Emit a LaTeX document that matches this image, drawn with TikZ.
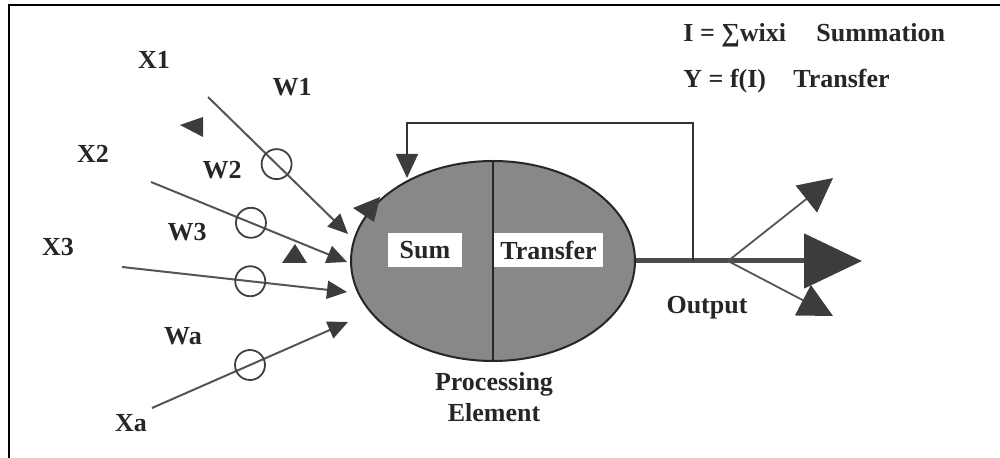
\documentclass[tikz,border=0pt]{standalone}
\usepackage{fontspec}
\setmainfont{Liberation Serif}
\usetikzlibrary{arrows.meta,shapes.geometric}

\definecolor{peGray}{HTML}{888888}
\definecolor{tipGray}{HTML}{3C3C3C}
\definecolor{lineGray}{HTML}{555555}

\begin{document}
\begin{tikzpicture}[x=0.5pt, y=-0.5pt,
    lbl/.style={font=\fontsize{13}{15.5}\selectfont\bfseries, text=black!85,
        inner sep=0pt},
    wcirc/.style={circle, draw=black!75, line width=0.9pt,
        minimum size=15pt, inner sep=0pt},
    inarrow/.style={draw=lineGray, line width=1pt,
        -{Triangle[length=10pt, width=9pt, color=tipGray]}},
    boxlbl/.style={fill=white, font=\fontsize{13}{15.5}\selectfont\bfseries,
        text=black!85, minimum height=17pt, inner xsep=3pt},
    branch/.style={draw=lineGray, line width=0.9pt,
        -{Triangle[length=17pt, width=17pt, color=tipGray]}},
    stray/.style={fill=tipGray},
]

\useasboundingbox (0,0) rectangle (1000,458);

% === Frame ===
\draw[line width=1.2pt] (9,458) -- (9,5) -- (1000,5);

% === Processing element ===
\node[ellipse, draw=black!85, line width=1pt, fill=peGray,
    minimum width=142pt, minimum height=100pt, inner sep=0pt] (pe) at (493,261) {};
\draw[black!85, line width=0.9pt] (pe.north) -- (pe.south);
\node[boxlbl, minimum width=37pt] (sum) at (425,250) {Sum};
\node[boxlbl, anchor=west] (transfer) at (494,250) {Transfer};
\node[lbl, align=center] (pelabel) at (494,397) {Processing\\Element};

% === Inputs ===
\coordinate (x1s) at (208,97);   \coordinate (x1e) at (348,234);
\coordinate (x2s) at (151,182);  \coordinate (x2e) at (347,262);
\coordinate (x3s) at (122,267);  \coordinate (x3e) at (347,292);
\coordinate (xas) at (152,408);  \coordinate (xae) at (348,322);

\draw[inarrow] (x1s) -- node[wcirc, pos=0.49] (w1c) {} (x1e);
\draw[inarrow] (x2s) -- node[wcirc, pos=0.51] (w2c) {} (x2e);
\draw[inarrow] (x3s) -- node[wcirc, pos=0.57] (w3c) {} (x3e);
\draw[inarrow] (xas) -- node[wcirc, pos=0.50] (wac) {} (xae);

\node[lbl] (x1) at (154,60) {X1};
\node[lbl] (x2) at (93,154) {X2};
\node[lbl] (x3) at (58,247) {X3};
\node[lbl] (xa) at (131,423) {Xa};
\node[lbl] (w1) at (292,87) {W1};
\node[lbl] (w2) at (222,170) {W2};
\node[lbl] (w3) at (187,232) {W3};
\node[lbl] (wa) at (183,336) {Wa};

% loose arrowheads
\fill[stray] (180,125) -- (203,117) -- (203,137) -- cycle;
\fill[stray] (282,263) -- (295,244) -- (307,263) -- cycle;
\fill[stray] (353,208) -- (380,197) -- (374,222) -- cycle;

% === Output ===
\coordinate (outtip) at (862,261);
\draw[draw=black!70, line width=2.5pt,
    -{Triangle[length=29pt, width=27pt, color=tipGray]}] (pe.east) -- (outtip);
\coordinate (split) at (728,261);
\coordinate (uptip) at (833,178);
\coordinate (lowtip) at (833,316);
\draw[branch] (split) -- (uptip);
\draw[branch] (split) -- (lowtip);
\node[lbl] (output) at (707,308) {Output};

% === Feedback ===
\coordinate (fbsplit) at (693,261);
\coordinate (fbin) at (407,178);
\draw[draw=black!80, line width=0.8pt,
    -{Triangle[length=12pt, width=11pt, color=tipGray]}]
    (fbsplit) -- ++(0,-138) -| (fbin);

% === Equations ===
\node[lbl, anchor=base west] (eqI) at (683,42) {I = ∑wixi};
\node[lbl, anchor=base west] (eqIname) at (816,42) {Summation};
\node[lbl, anchor=base west] (eqY) at (683,88) {Y = f(I)};
\node[lbl, anchor=base west] (eqYname) at (793,88) {Transfer};

\end{tikzpicture}
\end{document}
